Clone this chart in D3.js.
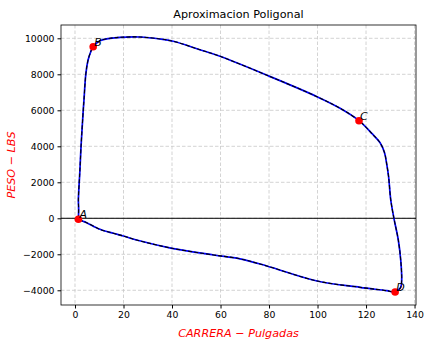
<!DOCTYPE html>
<html>
<head>
<meta charset="utf-8">
<script src="https://cdn.jsdelivr.net/npm/d3@7"></script>
<style>
    body { margin: 0; background: #fff; }
    text { font-family: "DejaVu Sans", sans-serif; }
</style>
</head>
<body>
<script>
// Curve: carrera (pulgadas) and peso (lbs)
var carrera = [1.4, 1.5, 1.4, 1.8, 2.0, 2.5, 3.4, 3.7, 4.5, 5.4, 6.5, 7.5,
    10.3, 14.4, 18.6, 26.8, 35.1, 40.5, 51.5, 59.8, 80, 99.8, 109.3,
    117.1, 122.5, 125.8, 127.6, 128.6, 129.3, 130.2, 131.5, 133.3, 134.3,
    134.7, 134.3, 133.3, 132, 128.5, 117.5, 99.8, 79.1, 68, 57.2, 40, 25.4,
    19.9, 15.8, 10.3, 4.8, 3.0, 1.4];
var peso = [-55, 500, 1017, 2128, 2600, 4000, 6000, 6572, 8056, 8795, 9256,
    9534, 9867, 10000, 10056, 10073, 9962, 9834, 9367, 9000, 7900,
    6756, 6111, 5423, 4700, 4200, 3650, 2950, 2311, 1017, 0, -1206, -2317,
    -3428, -3834, -3984, -4095, -4022, -3834, -3483, -2650, -2250, -2039,
    -1667, -1206, -983, -833, -611, -244, -150, -55];

// marked points
var puntos = ["A", "B", "C", "D"];
var puntoX = [1.4, 7.5, 117.1, 132];
var puntoY = [-55, 9534, 5423, -4095];

var xTicks = [0, 20, 40, 60, 80, 100, 120, 140];
var yTicks = [-4000, -2000, 0, 2000, 4000, 6000, 8000, 10000];

var W = 428, H = 342;
var margin = {top: 25, right: 12, bottom: 37, left: 61},
    width = W - margin.left - margin.right,
    height = H - margin.top - margin.bottom;

var svg = d3.select("body").append("svg")
    .attr("width", W)
    .attr("height", H);

var g = svg.append("g")
    .attr("transform", "translate(" + margin.left + "," + margin.top + ")");

var x = d3.scaleLinear().domain([-5.77, 140.6]).range([0, width]);
var y = d3.scaleLinear().domain([-4817, 10739]).range([height, 0]);

var fmt = function(d) { return d < 0 ? "\u2212" + Math.abs(d) : "" + d; };

// grid
g.append("g").selectAll("line")
    .data(xTicks).enter().append("line")
    .attr("x1", d => x(d)).attr("x2", d => x(d))
    .attr("y1", 0).attr("y2", height)
    .attr("stroke", "#c8c8c8").attr("stroke-width", 0.8)
    .attr("stroke-dasharray", "3.5,2");
g.append("g").selectAll("line")
    .data(yTicks).enter().append("line")
    .attr("x1", 0).attr("x2", width)
    .attr("y1", d => y(d)).attr("y2", d => y(d))
    .attr("stroke", "#c8c8c8").attr("stroke-width", 0.8)
    .attr("stroke-dasharray", "3.5,2");

// horizontal line at zero
g.append("line")
    .attr("x1", 0).attr("x2", width)
    .attr("y1", y(0)).attr("y2", y(0))
    .attr("stroke", "#000").attr("stroke-width", 1);

var datos = carrera.map((c, i) => [c, peso[i]]);
var linea = d3.line()
    .x(d => x(d[0])).y(d => y(d[1]))
    .curve(d3.curveCatmullRom.alpha(0.5));

g.append("path").datum(datos)
    .attr("d", linea)
    .attr("fill", "none")
    .attr("stroke", "#0000ff")
    .attr("stroke-width", 1.7);
g.append("path").datum(datos)
    .attr("d", linea)
    .attr("fill", "none")
    .attr("stroke", "#000")
    .attr("stroke-width", 1.1)
    .attr("stroke-dasharray", "4,2");

// red markers and letters
g.selectAll("circle.pt")
    .data(puntos).enter().append("circle")
    .attr("cx", (d, i) => x(puntoX[i]))
    .attr("cy", (d, i) => y(puntoY[i]))
    .attr("r", 3.8)
    .attr("fill", "#ff0000");
g.selectAll("text.pt")
    .data(puntos).enter().append("text")
    .attr("x", (d, i) => x(puntoX[i]) + 1)
    .attr("y", (d, i) => y(puntoY[i]) - 1)
    .attr("font-size", "11px")
    .attr("font-style", "italic")
    .attr("fill", "#000")
    .text(d => d);

// axes
var xAxis = d3.axisBottom(x).tickValues(xTicks).tickSize(3.5)
    .tickPadding(3).tickFormat(fmt);
var yAxis = d3.axisLeft(y).tickValues(yTicks).tickSize(3.5)
    .tickPadding(3).tickFormat(fmt);

g.append("g")
    .attr("transform", "translate(0," + height + ")")
    .call(xAxis)
    .call(a => a.select(".domain").remove())
    .selectAll("text").attr("font-size", "9.3px")
    .attr("font-family", "DejaVu Sans").attr("fill", "#000");
g.append("g")
    .call(yAxis)
    .call(a => a.select(".domain").remove())
    .selectAll("text").attr("font-size", "9.3px")
    .attr("font-family", "DejaVu Sans").attr("fill", "#000");

// frame
g.append("rect")
    .attr("width", width).attr("height", height)
    .attr("fill", "none").attr("stroke", "#000").attr("stroke-width", 0.8);

// title and labels
svg.append("text")
    .attr("x", margin.left + width / 2).attr("y", 18)
    .attr("text-anchor", "middle")
    .attr("font-size", "11.2px")
    .text("Aproximacion Poligonal");

svg.append("text")
    .attr("x", margin.left + width / 2).attr("y", 337)
    .attr("text-anchor", "middle")
    .attr("font-size", "11.2px")
    .attr("font-style", "italic")
    .attr("fill", "#ff0000")
    .text("CARRERA \u2212 Pulgadas");

svg.append("text")
    .attr("transform", "translate(15," + (margin.top + height / 2) + ") rotate(-90)")
    .attr("text-anchor", "middle")
    .attr("font-size", "11.2px")
    .attr("font-style", "italic")
    .attr("fill", "#ff0000")
    .text("PESO \u2212 LBS");
</script>
</body>
</html>
